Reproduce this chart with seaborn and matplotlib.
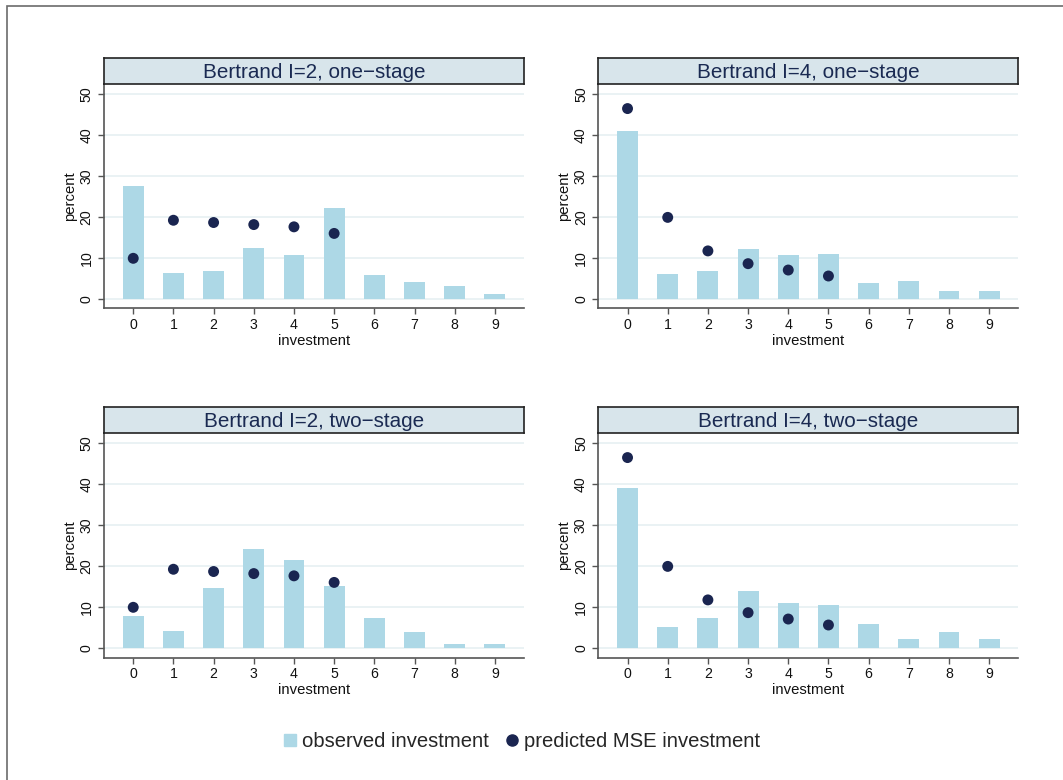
import numpy as np
import pandas as pd
import matplotlib
matplotlib.use("Agg")
import matplotlib.pyplot as plt
import seaborn as sns
from matplotlib.lines import Line2D
from matplotlib.patches import Rectangle

# ---------------- data ----------------
investment = [0, 1, 2, 3, 4, 5, 6, 7, 8, 9]
predicted_levels = [0, 1, 2, 3, 4, 5]

titles = ["Bertrand I=2, one\u2212stage", "Bertrand I=4, one\u2212stage",
          "Bertrand I=2, two\u2212stage", "Bertrand I=4, two\u2212stage"]

observed_i2_one = [27.5, 6.4, 7.0, 12.6, 10.9, 22.3, 6.0, 4.2, 3.2, 1.4]
observed_i4_one = [41.0, 6.2, 7.0, 12.3, 10.8, 11.1, 4.05, 4.5, 2.1, 2.1]
observed_i2_two = [7.8, 4.2, 14.7, 24.1, 21.6, 15.2, 7.4, 3.9, 1.2, 1.2]
observed_i4_two = [38.9, 5.1, 7.5, 13.9, 11.0, 10.5, 5.9, 2.2, 3.9, 2.3]

predicted_i2 = [10.0, 19.25, 18.7, 18.2, 17.65, 16.05]
predicted_i4 = [46.4, 19.95, 11.8, 8.7, 7.15, 5.7]

observed = [observed_i2_one, observed_i4_one, observed_i2_two, observed_i4_two]
predicted = [predicted_i2, predicted_i4, predicted_i2, predicted_i4]

y_ticks = [0, 10, 20, 30, 40, 50]

# ---------------- style ----------------
sns.set_theme(style="white")
plt.rcParams['font.family'] = ['Liberation Sans', 'DejaVu Sans']

BAR = "#add8e6"
DOT = "#1a2550"
STRIP = "#d8e5eb"
TITLE_C = "#1a2a52"
AXC = "#555555"
GRID = "#e8f1f3"

fig = plt.figure(figsize=(10.63, 7.8), dpi=100)

W, H = 1063.0, 780.0
lefts = [103.7, 598.0]
tops = [84.3, 433.3]
ax_w = 420.5
ax_h = 224.2
strip_h = 26.0

for i in range(4):
    r, c = divmod(i, 2)
    L = lefts[c]
    T = tops[r]
    ax = fig.add_axes([L / W, 1 - (T + ax_h) / H, ax_w / W, ax_h / H])
    df = pd.DataFrame({"investment": investment, "percent": observed[i]})
    sns.barplot(data=df, x="investment", y="percent", color=BAR, saturation=1,
                width=0.52, linewidth=0, ax=ax, zorder=2)
    dp = pd.DataFrame({"investment": predicted_levels, "percent": predicted[i]})
    sns.scatterplot(data=dp, x="investment", y="percent", color=DOT, s=62,
                    edgecolor="none", linewidth=0, ax=ax, legend=False, zorder=3)

    ax.set_xlim(-0.735, 9.73)
    ax.set_ylim(-2.2, 52.3)
    ax.set_xticks(investment)
    ax.set_xticklabels([str(v) for v in investment])
    ax.set_yticks(y_ticks)
    ax.set_yticklabels([str(v) for v in y_ticks], rotation=90, va="center")
    ax.yaxis.grid(True, color=GRID, linewidth=1.3, zorder=0)
    ax.xaxis.grid(False)
    ax.set_axisbelow(True)
    for s in ["top", "right"]:
        ax.spines[s].set_visible(False)
    for s in ["left", "bottom"]:
        ax.spines[s].set_color(AXC)
        ax.spines[s].set_linewidth(1.2)
    ax.tick_params(axis="both", which="major", length=4.2, width=1.0,
                   color=AXC, labelsize=10.2, labelcolor="#111111", pad=3,
                   left=True, bottom=True)
    ax.set_xlabel("investment", fontsize=10.7, color="#111111", labelpad=1)
    ax.set_ylabel("percent", fontsize=10.7, color="#111111", labelpad=2)

    # strip title
    sax = fig.add_axes([L / W, 1 - T / H, ax_w / W, strip_h / H])
    sax.set_facecolor(STRIP)
    sax.set_xticks([])
    sax.set_yticks([])
    for s in sax.spines.values():
        s.set_color("#222222")
        s.set_linewidth(1.2)
    sax.text(0.5, 0.45, titles[i], ha="center", va="center", fontsize=14.9,
             color=TITLE_C, transform=sax.transAxes)

# legend
handles = [Line2D([], [], marker="s", linestyle="none", color=BAR, markersize=8.5),
           Line2D([], [], marker="o", linestyle="none", color=DOT, markersize=8)]
fig.legend(handles, ["observed investment", "predicted MSE investment"],
           loc="center", bbox_to_anchor=(0.489, 1 - 741.7 / H), ncol=2,
           frameon=False, fontsize=14.6, handletextpad=0.1, columnspacing=0.65,
           handlelength=1.0)

# outer frame (partially cropped)
fig.patches.append(Rectangle((7 / W, -0.2), 1.5, 1.2 - 6 / H, transform=fig.transFigure,
                             fill=False, edgecolor="#6b6b6b", linewidth=1.2))

fig.savefig("out.png", dpi=100, facecolor="white")
